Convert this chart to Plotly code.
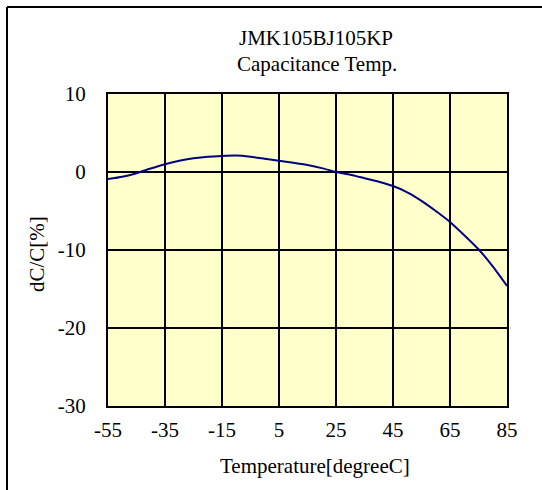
import plotly.graph_objects as go

temps = [-55, -50, -45, -40, -35, -30, -25, -20, -15, -10, -5, 0, 5, 10, 15,
         20, 25, 30, 35, 40, 45, 50, 55, 60, 65, 70, 75, 80, 85]
dcc = [-0.9, -0.6, -0.15, 0.45, 1.0, 1.45, 1.75, 1.95, 2.05, 2.1, 1.95, 1.7, 1.45, 1.2, 0.9,
       0.5, 0.0, -0.35, -0.8, -1.25, -1.8, -2.6, -3.7, -5.0, -6.4, -8.1, -9.9, -12.1, -14.6]
x_ticks = [-55, -35, -15, 5, 25, 45, 65, 85]
y_ticks = [-30, -20, -10, 0, 10]
title_lines = ["JMK105BJ105KP", "Capacitance Temp."]
x_title = "Temperature[degreeC]"
y_title = "dC/C[%]"

W, H = 542, 490
L, R, T, B = 108, 507, 94, 406
FONT = "Liberation Serif, Times New Roman, serif"
FS = 21

def px(x):
    return (x - L) / (R - L)

def py(y):
    return (B - y) / (B - T)

fig = go.Figure()
fig.add_trace(go.Scatter(x=temps, y=dcc, mode="lines",
                         line=dict(color="#000080", width=2, shape="spline", smoothing=0.6),
                         hoverinfo="skip"))

axis_common = dict(showline=True, linecolor="black", linewidth=2, mirror=True,
                   showgrid=True, gridcolor="black", gridwidth=1.5, zeroline=False,
                   ticks="", tickfont=dict(family=FONT, size=FS, color="black"))
fig.update_xaxes(range=[-55, 85], tickvals=x_ticks, ticktext=[str(v) for v in x_ticks],
                 ticklabelstandoff=4, **axis_common)
fig.update_yaxes(range=[-30, 10], tickvals=y_ticks, ticktext=[str(v) for v in y_ticks],
                 ticklabelstandoff=16, **axis_common)

def label(text, x, y, angle=0):
    return dict(text=text, x=px(x), y=py(y), xref="paper", yref="paper",
                showarrow=False, xanchor="center", yanchor="middle", textangle=angle,
                font=dict(family=FONT, size=FS, color="black"))

ann = [
    label(title_lines[0], 316, 38),
    label(title_lines[1], 317, 64),
    label(x_title, 315, 466),
    label(y_title, 37, 254, -90),
]

frame = dict(color="black", width=2)
shapes = [
    dict(type="line", xref="paper", yref="paper", x0=px(7), x1=px(560), y0=py(7), y1=py(7),
         line=frame, layer="below"),
    dict(type="line", xref="paper", yref="paper", x0=px(7), x1=px(7), y0=py(7), y1=py(520),
         line=frame, layer="below"),
]

fig.update_layout(
    width=W, height=H,
    margin=dict(l=L, r=W - R, t=T, b=H - B, pad=0),
    paper_bgcolor="white", plot_bgcolor="#FFFFCC",
    showlegend=False,
    annotations=ann,
    shapes=shapes,
)

fig.write_html("out.html", config={"displayModeBar": False},
               post_script="document.body.style.margin='0';document.body.style.overflow='hidden';")
